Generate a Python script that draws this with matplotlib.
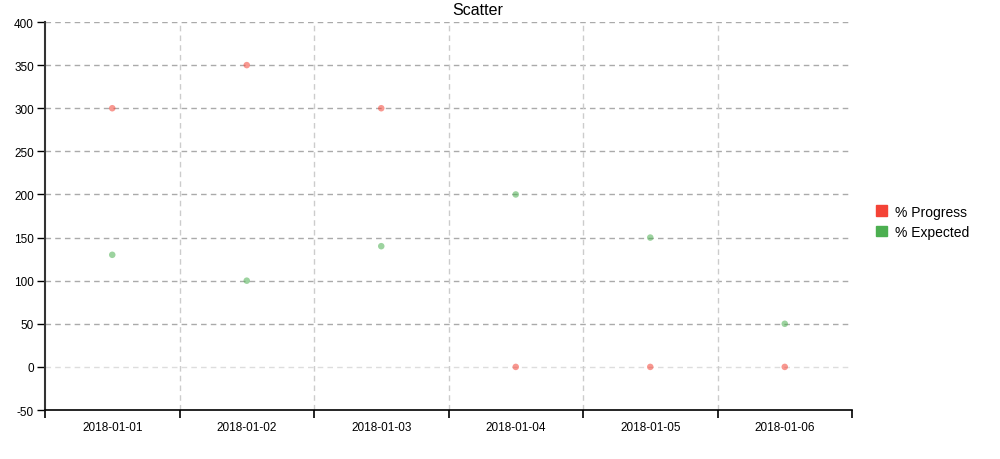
import matplotlib
matplotlib.use("Agg")
from matplotlib import pyplot as plt
from matplotlib.patches import Patch
import numpy as np

plt.rcParams['font.family'] = ['Liberation Sans', 'DejaVu Sans']
plt.rcParams['axes.unicode_minus'] = False

# 数据
dates = ["2018-01-01", "2018-01-02", "2018-01-03", "2018-01-04", "2018-01-05", "2018-01-06"]
progress = [300, 350, 300, 0, 0, 0]
expected = [130, 100, 140, 200, 150, 50]
y_ticks = list(range(-50, 401, 50))

red = "#f44336"
green = "#4caf50"

fig = plt.figure(figsize=(10, 4.6), dpi=100)
ax = fig.add_axes([0.045, 0.1065, 0.807, 0.8435])

x = np.arange(len(dates))

# 横向网格, 0 那条颜色浅一点
for v in y_ticks[1:]:
    c = "#dddddd" if v == 0 else "#aaaaaa"
    ax.axhline(v, color=c, linestyle=(0, (4, 3)), linewidth=1, zorder=0)
# 纵向网格在分组边界
for b in x[1:] - 0.5:
    ax.axvline(b, color="#cccccc", linestyle=(0, (4, 3)), linewidth=1, zorder=0)

ax.scatter(x, progress, s=22, color=red, alpha=0.55, edgecolors="none", zorder=3)
ax.scatter(x, expected, s=22, color=green, alpha=0.55, edgecolors="none", zorder=3)

ax.set_xlim(-0.5, len(dates) - 0.5)
ax.set_ylim(-50, 400)
ax.set_yticks(y_ticks)
ax.tick_params(axis="y", labelsize=8.5, length=6, width=1, color="#000000", pad=2)

ax.set_xticks(np.arange(len(dates) + 1) - 0.5)
ax.set_xticklabels([])
ax.set_xticks(x, minor=True)
ax.set_xticklabels(dates, minor=True)
ax.tick_params(axis="x", which="major", length=6, width=1.2, color="#000000")
ax.tick_params(axis="x", which="minor", length=0, labelsize=8.5, pad=8)

for s in ["top", "right"]:
    ax.spines[s].set_visible(False)
ax.spines["left"].set_linewidth(1.5)
ax.spines["left"].set_color("#333333")
ax.spines["bottom"].set_linewidth(1.2)

# 标题
fig.text(0.478, 0.977, "Scatter", fontsize=11.5, ha="center", va="center")

handles = [Patch(color=red, label="% Progress"), Patch(color=green, label="% Expected")]
fig.legend(handles=handles, loc="center left", bbox_to_anchor=(0.863, 0.516),
           frameon=False, fontsize=10, handlelength=0.8, handleheight=0.8,
           handletextpad=0.6, labelspacing=0.45)

plt.savefig("out.png")
